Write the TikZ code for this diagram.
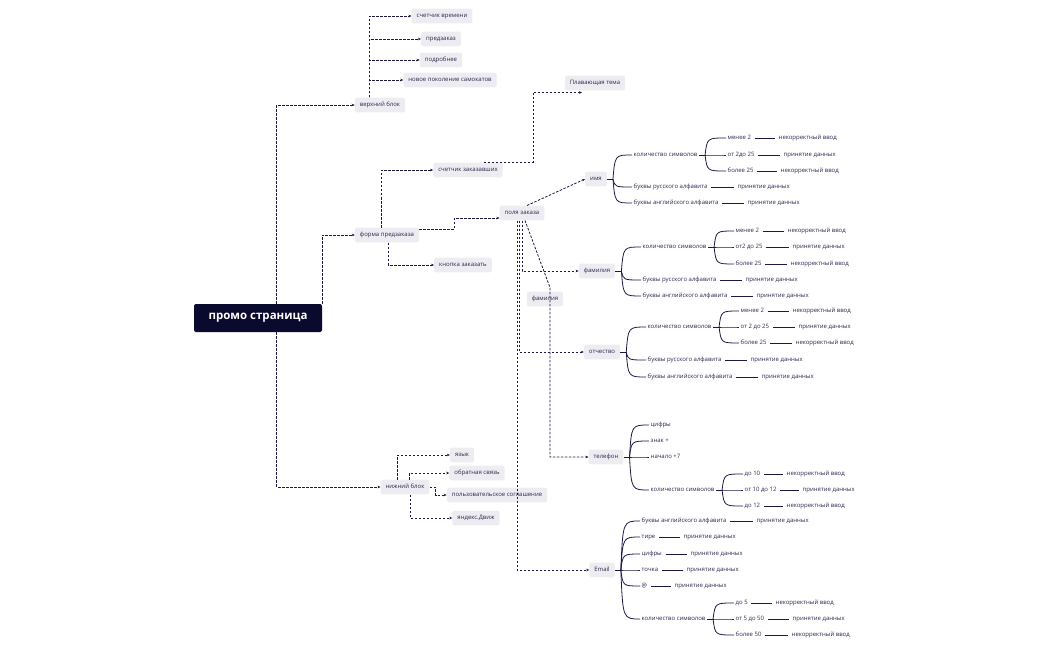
\documentclass[tikz,border=0pt]{standalone}
\usepackage{fontspec}
\setmainfont{Open Sans}
\usetikzlibrary{calc,arrows.meta}
\definecolor{boxg}{HTML}{EDECF1}
\definecolor{lnc}{HTML}{1C1A45}
\definecolor{txt}{HTML}{2A2850}
\definecolor{navy}{HTML}{0A0A2E}
\newcommand\ff{\fontsize{6}{7}\selectfont}
\newcommand\brc[2]{\draw[br] (#1) .. controls ($(#1 |- #2.west)+(2,0)$) .. (#2.west);}
\newcommand\fork[1]{\coordinate (#1F) at ($(#1.east)+(6,0)$); \draw[br] (#1.east)--(#1F);}
\tikzset{
 box/.style={fill=boxg, rounded corners=1.5pt, inner xsep=5pt, inner ysep=4.5pt, font=\ff, text=txt, text height=4.3pt, text depth=1.3pt},
 lf/.style={anchor=west, inner sep=1.5pt, font=\ff, text=txt, text height=4.3pt, text depth=1.3pt},
 da/.style={draw=lnc, dash pattern=on 2.5pt off 1.5pt, line width=0.8pt, -{Stealth[length=3pt,width=2.6pt]}},
 br/.style={draw=lnc, line width=0.8pt},
 lk/.style={draw=lnc, line width=0.8pt, shorten <=2pt, shorten >=2pt},
}
\begin{document}
\begin{tikzpicture}[x=1pt,y=-1pt]
\useasboundingbox (0,0) rectangle (1050,650);
% main nodes
\node[fill=navy, rounded corners=2pt, text=white, font=\bfseries\fontsize{11.5}{13}\selectfont, minimum width=128pt, minimum height=28pt] (promo) at (258,318) {промо страница};
\node[box] (vb) at (380,105) {верхний блок};
\node[box] (t1) at (442,16) {счетчик времени};
\node[box] (t2) at (441,39) {предзаказ};
\node[box] (t3) at (441,60) {подробнее};
\node[box] (t4) at (450,80) {новое поколение самокатов};
\node[box] (fp) at (387,235) {форма предзаказа};
\node[box] (sz) at (468,170) {счетчик заказавших};
\node[box] (kz) at (463,265) {кнопка заказать};
\node[box] (pz) at (522,213) {поля заказа};
\node[box] (pt) at (595,83) {Плавающая тема};
\node[box] (im) at (596,179) {имя};
\node[box] (fa) at (597,271) {фамилия};
\node[box] (fa2) at (545,299) {фамилия};
\node[box] (ot) at (602,352) {отчество};
\node[box] (tel) at (606,457) {телефон};
\node[box] (em) at (602,570) {Email};
\node[box] (nb) at (405,487) {нижний блок};
\node[box] (ya) at (462,455) {язык};
\node[box] (os) at (477,473) {обратная связь};
\node[box] (ps) at (497,495) {пользовательское соглашение};
\node[box] (yd) at (476,518) {яндекс.Движ};
% dashed connectors
\draw[da] ($(promo.north west)+(83,0)$) |- (vb.west);
\foreach \t in {t1,t2,t3,t4} \draw[da] ($(vb.north west)+(15,0)$) |- (\t.west);
\draw[da] (promo.north east) |- (fp.west);
\draw[da] ($(fp.north west)+(27,0)$) |- (sz.west);
\draw[da] ($(fp.south west)+(34,0)$) |- (kz.west);
\draw[da] ($(fp.east)+(0,-6)$) -- ++(35,0) |- ($(pz.west)+(0,5)$);
\draw[da] ($(sz.north east)+(-19,0)$) -- ++(49,0) |- ($(pt.south)+(-13,2)$);
\draw[da] ($(pz.north)+(5,0)$) -- (im.west);
\draw[da] (pz.south) |- (fa.west);
\draw[da] ($(pz.south)+(-3,0)$) |- (ot.west);
\draw[da] ($(pz.south)+(-5,0)$) |- (em.west);
\coordinate (tb) at ($(fa2.north)+(5,-4)$);
\draw[da] ($(pz.south)+(3,0)$) -- (tb) |- (tel.west);
\draw[da] ($(promo.south west)+(83,0)$) |- (nb.west);
\draw[da] ($(nb.north west)+(17,0)$) |- (ya.west);
\draw[da] ($(nb.north west)+(29,0)$) |- (os.west);
\draw[da] (nb.east) -- ++(6,0) |- (ps.west);
\draw[da] ($(nb.south west)+(30,0)$) |- (yd.west);
% имя
\node[lf] (n1) at (632,155) {количество символов};
\node[lf] (n2) at (632,187) {буквы русского алфавита};
\node[lf] (n3) at (632,203) {буквы английского алфавита};
\node[lf] (n11) at (726,138) {менее 2};
\node[lf] (n12) at (726,155) {от 2до 25};
\node[lf] (n13) at (726,171) {более 25};
\node[lf] (n11a) at (777,138) {некорректный ввод};
\node[lf] (n12a) at (782,155) {принятие данных};
\node[lf] (n13a) at (779,171) {некорректный ввод};
\node[lf] (n2a) at (736,187) {принятие данных};
\node[lf] (n3a) at (746,203) {принятие данных};
\fork{im} \brc{imF}{n1} \brc{imF}{n2} \brc{imF}{n3}
\fork{n1} \brc{n1F}{n11} \brc{n1F}{n12} \brc{n1F}{n13}
\foreach \a/\b in {n11/n11a,n12/n12a,n13/n13a,n2/n2a,n3/n3a} \draw[lk] (\a.east) -- (\b.west);
% фамилия
\node[lf] (f1) at (641,247) {количество символов};
\node[lf] (f2) at (641,280) {буквы русского алфавита};
\node[lf] (f3) at (641,296) {буквы английского алфавита};
\node[lf] (f11) at (734,231) {менее 2};
\node[lf] (f12) at (734,247) {от2 до 25};
\node[lf] (f13) at (734,264) {более 25};
\node[lf] (f11a) at (786,231) {некорректный ввод};
\node[lf] (f12a) at (791,247) {принятие данных};
\node[lf] (f13a) at (789,264) {некорректный ввод};
\node[lf] (f2a) at (744,280) {принятие данных};
\node[lf] (f3a) at (755,296) {принятие данных};
\fork{fa} \brc{faF}{f1} \brc{faF}{f2} \brc{faF}{f3}
\fork{f1} \brc{f1F}{f11} \brc{f1F}{f12} \brc{f1F}{f13}
\foreach \a/\b in {f11/f11a,f12/f12a,f13/f13a,f2/f2a,f3/f3a} \draw[lk] (\a.east) -- (\b.west);
% отчество
\node[lf] (o1) at (646,327) {количество символов};
\node[lf] (o2) at (646,360) {буквы русского алфавита};
\node[lf] (o3) at (646,377) {буквы английского алфавита};
\node[lf] (o11) at (739,311) {менее 2};
\node[lf] (o12) at (739,327) {от 2 до 25};
\node[lf] (o13) at (739,343) {более 25};
\node[lf] (o11a) at (791,311) {некорректный ввод};
\node[lf] (o12a) at (797,327) {принятие данных};
\node[lf] (o13a) at (794,343) {некорректный ввод};
\node[lf] (o2a) at (749,360) {принятие данных};
\node[lf] (o3a) at (760,377) {принятие данных};
\fork{ot} \brc{otF}{o1} \brc{otF}{o2} \brc{otF}{o3}
\fork{o1} \brc{o1F}{o11} \brc{o1F}{o12} \brc{o1F}{o13}
\foreach \a/\b in {o11/o11a,o12/o12a,o13/o13a,o2/o2a,o3/o3a} \draw[lk] (\a.east) -- (\b.west);
% телефон
\node[lf] (p1) at (649,425) {цифры};
\node[lf] (p2) at (649,441) {знак +};
\node[lf] (p3) at (649,457) {начало +7};
\node[lf] (p4) at (649,490) {количество символов};
\node[lf] (p41) at (743,474) {до 10};
\node[lf] (p42) at (743,490) {от 10 до 12};
\node[lf] (p43) at (743,506) {до 12};
\node[lf] (p41a) at (785,474) {некорректный ввод};
\node[lf] (p42a) at (801,490) {принятие данных};
\node[lf] (p43a) at (785,506) {некорректный ввод};
\fork{tel} \brc{telF}{p1} \brc{telF}{p2} \brc{telF}{p3} \brc{telF}{p4}
\fork{p4} \brc{p4F}{p41} \brc{p4F}{p42} \brc{p4F}{p43}
\foreach \a/\b in {p41/p41a,p42/p42a,p43/p43a} \draw[lk] (\a.east) -- (\b.west);
% Email
\node[lf] (e1) at (640,521) {буквы английского алфавита};
\node[lf] (e2) at (640,537) {тире};
\node[lf] (e3) at (640,554) {цифры};
\node[lf] (e4) at (640,570) {точка};
\node[lf] (e5) at (640,586) {@};
\node[lf] (e6) at (640,619) {количество символов};
\node[lf] (e1a) at (755,521) {принятие данных};
\node[lf] (e2a) at (682,537) {принятие данных};
\node[lf] (e3a) at (689,554) {принятие данных};
\node[lf] (e4a) at (685,570) {принятие данных};
\node[lf] (e5a) at (673,586) {принятие данных};
\node[lf] (e61) at (734,603) {до 5};
\node[lf] (e62) at (734,619) {от 5 до 50};
\node[lf] (e63) at (734,635) {более 50};
\node[lf] (e61a) at (774,603) {некорректный ввод};
\node[lf] (e62a) at (791,619) {принятие данных};
\node[lf] (e63a) at (790,635) {некорректный ввод};
\fork{em} \foreach \c in {e1,e2,e3,e4,e5,e6} {\brc{emF}{\c}}
\fork{e6} \brc{e6F}{e61} \brc{e6F}{e62} \brc{e6F}{e63}
\foreach \a/\b in {e1/e1a,e2/e2a,e3/e3a,e4/e4a,e5/e5a,e61/e61a,e62/e62a,e63/e63a} \draw[lk] (\a.east) -- (\b.west);
\end{tikzpicture}
\end{document}
